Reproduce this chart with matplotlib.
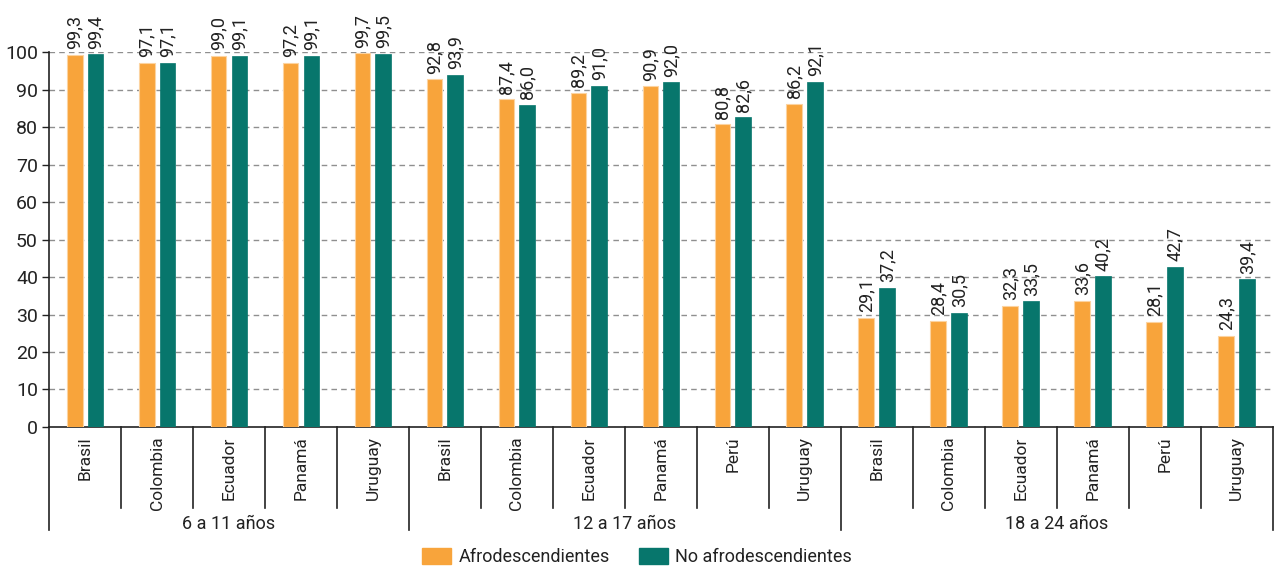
import matplotlib
matplotlib.use("Agg")
import matplotlib.pyplot as plt
from matplotlib.patches import Patch
from matplotlib.lines import Line2D
import matplotlib.transforms as mtransforms

plt.rcParams['font.family'] = ['Roboto', 'DejaVu Sans']

# Age groups and the countries within each
groups = ["6 a 11 años", "12 a 17 años", "18 a 24 años"]
countries_6_11 = ["Brasil", "Colombia", "Ecuador", "Panamá", "Uruguay"]
countries_12_17 = ["Brasil", "Colombia", "Ecuador", "Panamá", "Perú", "Uruguay"]
countries_18_24 = ["Brasil", "Colombia", "Ecuador", "Panamá", "Perú", "Uruguay"]

# School attendance rates (%)
afro_6_11 = [99.3, 97.1, 99.0, 97.2, 99.7]
noafro_6_11 = [99.4, 97.1, 99.1, 99.1, 99.5]
afro_12_17 = [92.8, 87.4, 89.2, 90.9, 80.8, 86.2]
noafro_12_17 = [93.9, 86.0, 91.0, 92.0, 82.6, 92.1]
afro_18_24 = [29.1, 28.4, 32.3, 33.6, 28.1, 24.3]
noafro_18_24 = [37.2, 30.5, 33.5, 40.2, 42.7, 39.4]

series_names = ["Afrodescendientes", "No afrodescendientes"]
y_ticks = list(range(0, 101, 10))

ORANGE = "#F8A43B"
ORANGE_EDGE = "#FCD3A0"
TEAL = "#07766C"
INK = "#222222"

country_lists = [countries_6_11, countries_12_17, countries_18_24]
afro = afro_6_11 + afro_12_17 + afro_18_24
noafro = noafro_6_11 + noafro_12_17 + noafro_18_24
countries = countries_6_11 + countries_12_17 + countries_18_24
n = len(countries)
x = list(range(n))

fig = plt.figure(figsize=(12.74, 5.67), dpi=100)
ax = fig.add_axes([0.0385, 0.247, 0.9605, 0.661])

bw = 0.22
off = 0.145
xa = [i - off for i in x]
xn = [i + off for i in x]
bars_a = ax.bar(xa, afro, width=bw, color=ORANGE, edgecolor=ORANGE_EDGE, linewidth=0.8, zorder=3)
bars_n = ax.bar(xn, noafro, width=bw, color=TEAL, edgecolor=TEAL, linewidth=0.5, zorder=3)

fs = 13


def fmt(v):
    return f"{v:.1f}".replace(".", ",")


for bars, vals in ((bars_a, afro), (bars_n, noafro)):
    for b, v in zip(bars, vals):
        ax.annotate(fmt(v), xy=(b.get_x() + b.get_width() / 2, v),
                    xytext=(0, 4), textcoords="offset points",
                    rotation=90, ha="center", va="bottom", fontsize=fs,
                    color=INK, annotation_clip=False)

ax.set_xlim(-0.5, n - 0.5)
ax.set_ylim(0, 100)
ax.set_yticks(y_ticks)
ax.tick_params(axis="y", labelsize=fs + 1, length=5, width=1, colors=INK, pad=3)
ax.set_xticks([])

for yv in y_ticks[1:]:
    ax.axhline(yv, color="#8f8f8f", linestyle=(0, (4, 3)), linewidth=1, zorder=1)

for s in ("top", "right"):
    ax.spines[s].set_visible(False)
for s in ("left", "bottom"):
    ax.spines[s].set_color(INK)
    ax.spines[s].set_linewidth(1.2)

trans = mtransforms.blended_transform_factory(ax.transData, ax.transAxes)

# Category labels under the axis
for i, c in enumerate(countries):
    ax.text(i, -0.025, c, transform=trans, rotation=90, ha="center", va="top",
            fontsize=fs - 0.5, color=INK)

# Separators: short between countries, long between age groups
group_sizes = [len(g) for g in country_lists]
bounds = [0]
for s in group_sizes:
    bounds.append(bounds[-1] + s)
for k in range(n + 1):
    xb = k - 0.5
    low = -0.275 if k in bounds else -0.216
    ax.add_line(Line2D([xb, xb], [0, low], transform=trans, color=INK,
                       linewidth=1.2, clip_on=False))

for gi, g in enumerate(groups):
    center = (bounds[gi] + bounds[gi + 1] - 1) / 2
    ax.text(center, -0.258, g, transform=trans, ha="center", va="center",
            fontsize=fs, color=INK)

handles = [Patch(facecolor=ORANGE, edgecolor=ORANGE), Patch(facecolor=TEAL, edgecolor=TEAL)]
fig.legend(handles, series_names, loc="center", bbox_to_anchor=(0.5, 0.017),
           ncol=2, frameon=False, fontsize=fs, handlelength=1.6, handleheight=1.0,
           handletextpad=0.4, columnspacing=1.6, labelcolor=INK)

fig.savefig("out.png", dpi=100)
